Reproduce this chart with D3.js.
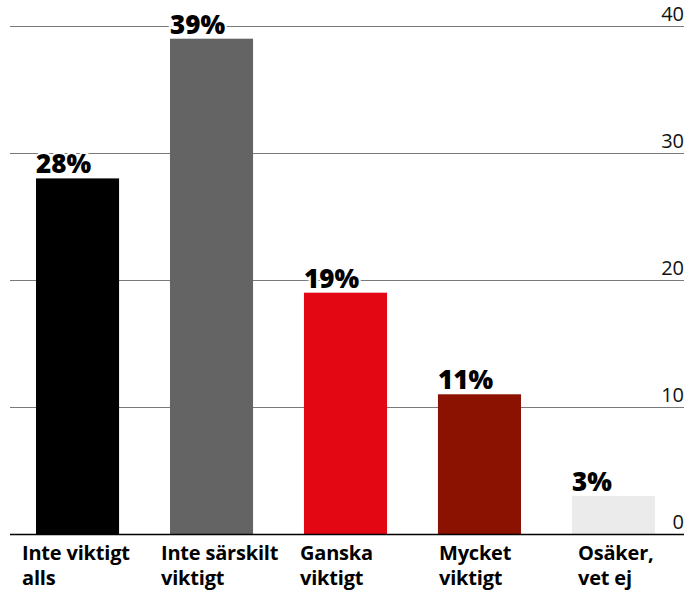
<!DOCTYPE html>
<html>
<head>
<meta charset="utf-8">
<script src="https://cdn.jsdelivr.net/npm/d3@7"></script>
<style>
  body { margin: 0; background: #fff; }
  svg { display: block; }
</style>
</head>
<body>
<div id="chart"></div>
<script>
const width = 691;
const height = 595;

const categories = ['Inte viktigt alls', 'Inte särskilt viktigt', 'Ganska viktigt', 'Mycket viktigt', 'Osäker, vet ej'];
const labelLines = [['Inte viktigt', 'alls'], ['Inte särskilt', 'viktigt'], ['Ganska', 'viktigt'], ['Mycket', 'viktigt'], ['Osäker,', 'vet ej']];
const values = [28, 39, 19, 11, 3];
const colors = ['#000000', '#646464', '#e30613', '#8b1100', '#ebebeb'];
const yTicks = [0, 10, 20, 30, 40];

const svg = d3.select('#chart').append('svg')
  .attr('width', width)
  .attr('height', height);

const x = d3.scaleBand()
  .domain(categories)
  .range([36, 655])
  .paddingInner(0.38)
  .paddingOuter(0);

// labels sit on a slightly wider grid than the bars
const xLabel = d3.scaleBand()
  .domain(categories)
  .range([22, 22 + 139 * 5]);

const y = d3.scaleLinear()
  .domain([0, 40])
  .range([534, 26]);

// grid lines
svg.append('g')
  .selectAll('line')
  .data(yTicks.filter(d => d > 0))
  .join('line')
  .attr('x1', 10)
  .attr('x2', 684)
  .attr('y1', d => y(d) + 0.5)
  .attr('y2', d => y(d) + 0.5)
  .attr('stroke', '#7a7a7a')
  .attr('stroke-width', 1);

// right axis labels
svg.append('g')
  .selectAll('text')
  .data(yTicks)
  .join('text')
  .attr('x', 684)
  .attr('y', d => y(d) - 5)
  .attr('text-anchor', 'end')
  .attr('font-family', 'Open Sans, sans-serif')
  .attr('font-size', 20)
  .attr('fill', '#111')
  .text(d => d);

// bars
svg.append('g')
  .selectAll('rect')
  .data(values)
  .join('rect')
  .attr('x', (d, i) => x(categories[i]))
  .attr('y', d => y(d))
  .attr('width', x.bandwidth())
  .attr('height', d => y(0) - y(d))
  .attr('fill', (d, i) => colors[i]);

// value labels, white halo to break the grid line
svg.append('g')
  .selectAll('text')
  .data(values)
  .join('text')
  .attr('x', (d, i) => x(categories[i]))
  .attr('y', d => y(d) - 5)
  .attr('font-family', 'Open Sans, sans-serif')
  .attr('font-weight', 800)
  .attr('font-size', 26)
  .attr('fill', '#000')
  .attr('stroke', '#fff')
  .attr('stroke-width', 4)
  .attr('paint-order', 'stroke')
  .text(d => d + '%');

// baseline
svg.append('line')
  .attr('x1', 10)
  .attr('x2', 684)
  .attr('y1', y(0) + 0.5)
  .attr('y2', y(0) + 0.5)
  .attr('stroke', '#000')
  .attr('stroke-width', 1.5);

// category labels
const catLabels = svg.append('g')
  .selectAll('text')
  .data(categories)
  .join('text')
  .attr('x', d => xLabel(d))
  .attr('y', 560)
  .attr('font-family', 'Open Sans, sans-serif')
  .attr('font-weight', 700)
  .attr('font-size', 20)
  .attr('letter-spacing', -0.2)
  .attr('fill', '#000');

catLabels.selectAll('tspan')
  .data((d, i) => labelLines[i])
  .join('tspan')
  .attr('x', function() { return this.parentNode.getAttribute('x'); })
  .attr('dy', (d, i) => i === 0 ? 0 : 25)
  .text(d => d);
</script>
</body>
</html>
